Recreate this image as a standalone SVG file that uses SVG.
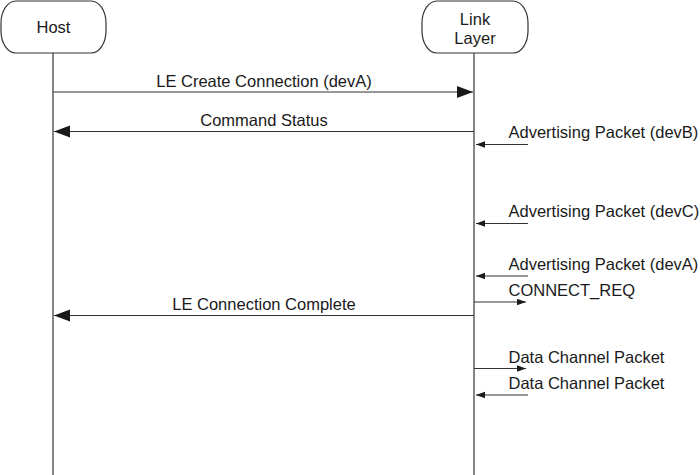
<svg xmlns="http://www.w3.org/2000/svg" width="700" height="475" viewBox="0 0 700 475">
<style>
.box{fill:#fff;stroke:#333;stroke-width:1.2}
.life{stroke:#444;stroke-width:1.3;fill:none}
.msg{stroke:#333;stroke-width:1.2;fill:none}
text{font-family:"Liberation Sans",Arial,sans-serif;font-size:16.5px;fill:#1a1a1a}
.c{text-anchor:middle}
</style>
<defs>
<marker id="big" markerUnits="userSpaceOnUse" markerWidth="18" markerHeight="14" refX="16" refY="6" orient="auto">
<polygon points="0,0 16,6 0,12" fill="#1a1a1a"/>
</marker>
<marker id="small" markerUnits="userSpaceOnUse" markerWidth="10" markerHeight="8" refX="9" refY="3.2" orient="auto">
<polygon points="0,0 9,3.2 0,6.4" fill="#1a1a1a"/>
</marker>
</defs>
<g id="host">
<rect class="box" x="1" y="1" width="105" height="52" rx="15" ry="22"/>
<line class="life" x1="53" y1="53" x2="53" y2="475"/>
<text class="c" x="53.5" y="33">Host</text>
</g>
<g id="linklayer">
<rect class="box" x="422" y="1" width="106" height="52" rx="15" ry="22"/>
<line class="life" x1="474" y1="53" x2="474" y2="475"/>
<text class="c" x="475" y="24.5">Link</text>
<text class="c" x="475" y="44">Layer</text>
</g>
<g id="connectors">
<line class="msg" x1="53" y1="92" x2="473" y2="92" marker-end="url(#big)"/>
<text class="c" x="264" y="86.5">LE Create Connection (devA)</text>
<line class="msg" x1="474" y1="131.5" x2="54" y2="131.5" marker-end="url(#big)"/>
<text class="c" x="264" y="125.5">Command Status</text>
<line class="msg" x1="528" y1="144.5" x2="476" y2="144.5" marker-end="url(#small)"/>
<text x="508.5" y="138">Advertising Packet (devB)</text>
<line class="msg" x1="528" y1="223.5" x2="476" y2="223.5" marker-end="url(#small)"/>
<text x="508.5" y="217">Advertising Packet (devC)</text>
<line class="msg" x1="528" y1="276" x2="476" y2="276" marker-end="url(#small)"/>
<text x="508.5" y="269.5">Advertising Packet (devA)</text>
<line class="msg" x1="474" y1="302" x2="526" y2="302" marker-end="url(#small)"/>
<text x="508.5" y="296">CONNECT_REQ</text>
<line class="msg" x1="474" y1="315.5" x2="54" y2="315.5" marker-end="url(#big)"/>
<text class="c" x="264" y="309.5">LE Connection Complete</text>
<line class="msg" x1="474" y1="368.5" x2="526" y2="368.5" marker-end="url(#small)"/>
<text x="508.5" y="362.5">Data Channel Packet</text>
<line class="msg" x1="528" y1="395" x2="476" y2="395" marker-end="url(#small)"/>
<text x="508.5" y="388.5">Data Channel Packet</text>
</g>
</svg>
